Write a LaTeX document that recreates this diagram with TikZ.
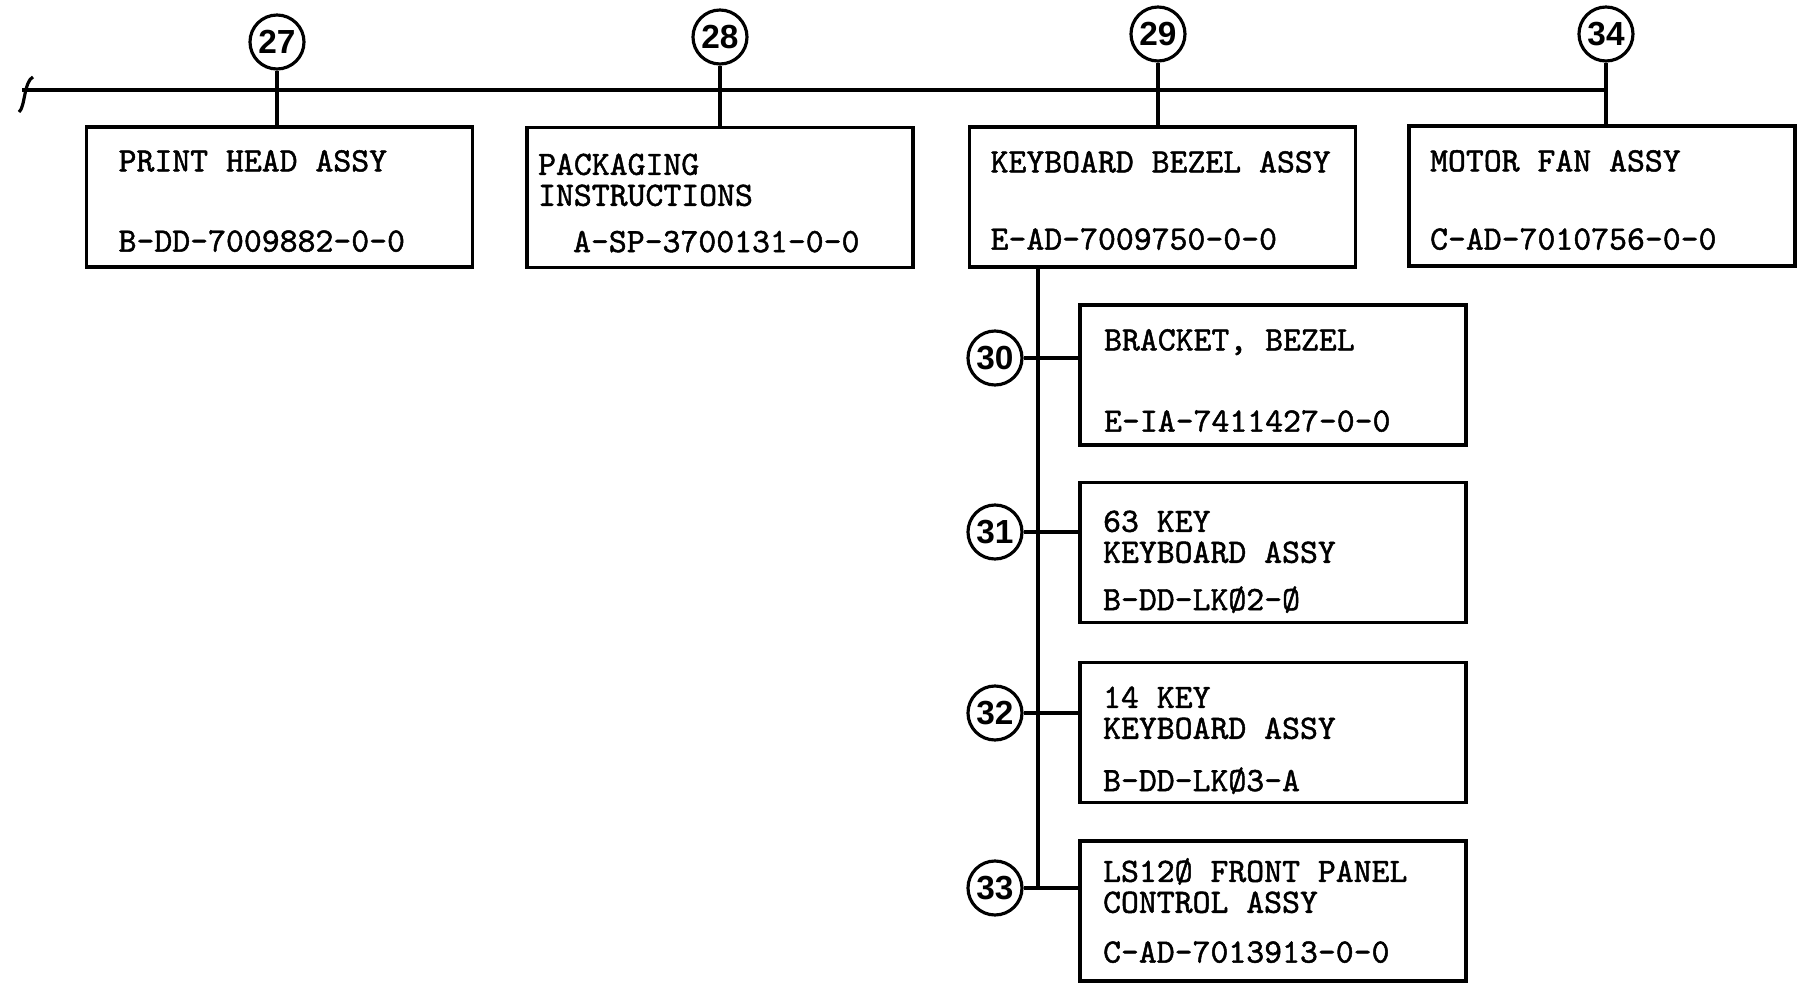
\documentclass[tikz,border=0pt]{standalone}
\usepackage{fontspec}
\newfontfamily\typer{Latin Modern Mono}[FakeBold=1.4]
\newfontfamily\callfont{Liberation Sans}
\tikzset{
  part/.style={draw, line width=0.9pt, minimum width=3.86cm, minimum height=1.40cm, inner sep=0pt},
  callout/.style={draw, circle, line width=0.9pt, minimum size=0.54cm, inner sep=0pt, font=\callfont\bfseries\fontsize{9.5}{9.5}\selectfont},
  ttl/.style={anchor=north west, inner sep=0pt, align=left, font=\typer\fontsize{9.7}{8.8}\selectfont},
  pno/.style={anchor=base west, inner sep=0pt, font=\typer\fontsize{9.7}{8.8}\selectfont},
  link/.style={line width=0.9pt}
}
\begin{document}
\begin{tikzpicture}
  \useasboundingbox (0,0) rectangle (17.97,9.83);
  % main line with break mark
  \coordinate (brk) at (0.22,8.93);
  \draw [link] (0.33,9.06) .. controls (0.24,9.02) and (0.25,8.75) .. (0.19,8.71);
  % call-outs on the main line
  \node (c27) [callout] at (2.77,9.41) {27};
  \node (c28) [callout] at (7.20,9.46) {28};
  \node (c29) [callout] at (11.58,9.49) {29};
  \node (c34) [callout] at (16.06,9.49) {34};
  \draw [link] (brk) -- (brk -| c34);
  % top row of parts
  \node (b27) [part] at (2.795,7.86) {};
  \node (b28) [part] at (7.20,7.855) {};
  \node (b29) [part] at (11.625,7.86) {};
  \node (b34) [part] at (16.02,7.87) {};
  \draw [link] (c27) -- (c27 |- b27.north);
  \draw [link] (c28) -- (c28 |- b28.north);
  \draw [link] (c29) -- (c29 |- b29.north);
  \draw [link] (c34) -- (c34 |- b34.north);
  \node (t27) [ttl] at ([shift={(0.33,-0.24)}]b27.north west) {PRINT HEAD ASSY};
  \node (n27) [pno] at ([shift={(0.33,0.17)}]b27.south west) {B-DD-7009882-0-0};
  \node (t28) [ttl] at ([shift={(0.12,-0.27)}]b28.north west) {PACKAGING\\INSTRUCTIONS};
  \node (n28) [pno] at ([shift={(0.47,0.17)}]b28.south west) {A-SP-3700131-0-0};
  \node (t29) [ttl] at ([shift={(0.22,-0.25)}]b29.north west) {KEYBOARD BEZEL ASSY};
  \node (n29) [pno] at ([shift={(0.22,0.19)}]b29.south west) {E-AD-7009750-0-0};
  \node (t34) [ttl] at ([shift={(0.22,-0.25)}]b34.north west) {MOTOR FAN ASSY};
  \node (n34) [pno] at ([shift={(0.22,0.18)}]b34.south west) {C-AD-7010756-0-0};
  % parts of the keyboard bezel
  \node (b30) [part] at (12.73,6.08) {};
  \node (b31) [part] at (12.73,4.305) {};
  \node (b32) [part] at (12.73,2.505) {};
  \node (b33) [part] at (12.73,0.72) {};
  \node (c30) [callout] at (9.95,6.25) {30};
  \node (c31) [callout] at (9.95,4.51) {31};
  \node (c32) [callout] at (9.95,2.70) {32};
  \node (c33) [callout] at (9.95,0.95) {33};
  \coordinate (trunk) at ([xshift=0.70cm]b29.south west);
  \draw [link] (trunk) -- (trunk |- c33);
  \draw [link] (c30) -- (c30 -| b30.west);
  \draw [link] (c31) -- (c31 -| b31.west);
  \draw [link] (c32) -- (c32 -| b32.west);
  \draw [link] (c33) -- (c33 -| b33.west);
  \node (t30) [ttl] at ([shift={(0.25,-0.25)}]b30.north west) {BRACKET, BEZEL};
  \node (n30) [pno] at ([shift={(0.25,0.15)}]b30.south west) {E-IA-7411427-0-0};
  \node (t31) [ttl] at ([shift={(0.24,-0.29)}]b31.north west) {63 KEY\\KEYBOARD ASSY};
  \node (n31) [pno] at ([shift={(0.24,0.14)}]b31.south west) {B-DD-LKØ2-Ø};
  \node (t32) [ttl] at ([shift={(0.24,-0.25)}]b32.north west) {14 KEY\\KEYBOARD ASSY};
  \node (n32) [pno] at ([shift={(0.24,0.13)}]b32.south west) {B-DD-LKØ3-A};
  \node (t33) [ttl] at ([shift={(0.24,-0.18)}]b33.north west) {LS12Ø FRONT PANEL\\CONTROL ASSY};
  \node (n33) [pno] at ([shift={(0.24,0.20)}]b33.south west) {C-AD-7013913-0-0};
\end{tikzpicture}
\end{document}
